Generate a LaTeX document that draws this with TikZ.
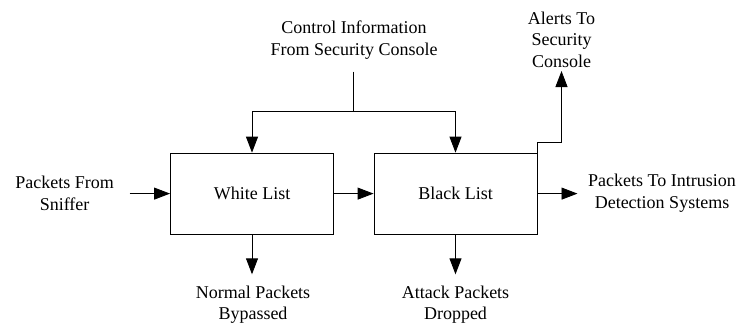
\documentclass[tikz,border=0pt]{standalone}
\usepackage{fontspec}
\setmainfont{Liberation Serif}
\usetikzlibrary{arrows.meta}
\begin{document}
\begin{tikzpicture}[x=1pt,y=-1pt,
  box/.style={draw,line width=0.9pt,minimum width=163pt,minimum height=81pt,inner sep=0pt,font=\fontsize{18}{21.6}\selectfont},
  lbl/.style={align=center,inner sep=0pt,font=\fontsize{18}{21.6}\selectfont},
  arr/.style={line width=0.9pt,-{Triangle[length=16pt,width=12pt]}},
  ln/.style={line width=0.9pt}]
\useasboundingbox (0,0) rectangle (739,325);
\node[box] (white) at (252,193.6) {White List};
\node[box] (black) at (455.5,193.6) {Black List};
\node[lbl] (ctrl) at (354,40) {Control Information\\From Security Console};
\node[lbl] (alerts) at (561.5,39.5) {Alerts To\\Security\\Console};
\node[lbl] (src) at (64.6,193.5) {Packets From\\Sniffer};
\node[lbl] (ids) at (662,193) {Packets To Intrusion\\Detection Systems};
\node[lbl] (normal) at (253,304.5) {Normal Packets\\Bypassed};
\node[lbl] (attack) at (455.5,304.5) {Attack Packets\\Dropped};
\coordinate (ctop) at (353,71.7);
\coordinate (j) at (353,111.7);
\coordinate (in) at (129.6,193.6);
\coordinate (oend) at (577.5,193.6);
\coordinate (atip) at (561.5,71);
\coordinate (wend) at (252,274.3);
\coordinate (bend) at (455.5,274.3);
\draw[ln] (ctop) -- (j);
\draw[arr] (j) -| (white.north);
\draw[arr] (j) -| (black.north);
\draw[arr] (in) -- (white.west);
\draw[arr] (white.east) -- (black.west);
\draw[arr] (black.east) -- (oend);
\draw[arr] (black.north east) -- ++(0,-10.5) -| (atip);
\draw[arr] (white.south) -- (wend);
\draw[arr] (black.south) -- (bend);
\end{tikzpicture}
\end{document}
